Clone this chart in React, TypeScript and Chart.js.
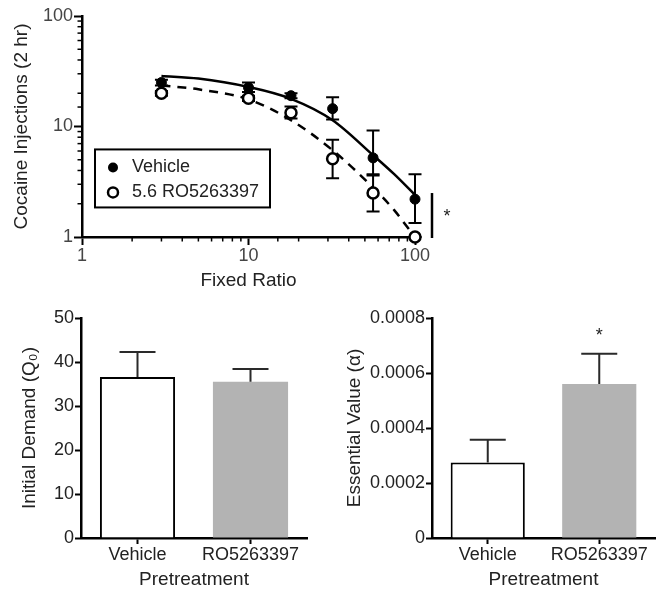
import React, { useEffect, useRef } from "react";
import { Chart, registerables } from "chart.js";
Chart.register(...registerables);

const FONT = "'Liberation Sans', Arial, Helvetica, sans-serif";
const INK = "#222222";
const TICK_INK = "#454545";

// ---- Top panel: demand curves ----
const fixedRatios = [3, 10, 18, 32, 56, 100];
const vehicleMean = [25, 22.5, 19, 14.5, 5.2, 2.2];
const vehicleUpper = [26.5, 25, 20, 18.4, 9.2, 3.7];
const vehicleLower = [23.5, 20.5, 18, 11.6, 3.6, 1.34];
const roMean = [20, 18, 13.3, 5.1, 2.5, 1.0];
const roUpper = [21, 19, 15.2, 7.6, 3.7, 1.0];
const roLower = [19, 17, 11.8, 3.4, 1.7, 1.0];
const vehicleCurveX = [3, 5, 10, 18, 32, 56, 75, 100];
const vehicleCurveY = [28.7, 27.2, 22.8, 17.8, 11.4, 5.5, 3.7, 2.4];
const roCurveX = [3, 5, 10, 18, 32, 56, 75, 93];
const roCurveY = [23.5, 21.7, 17.6, 11.4, 6.1, 2.8, 1.75, 1.15];
const logMajorTicks = [1, 10, 100];
const legendLabels = ["Vehicle", "5.6 RO5263397"];
const sigBarRange = [1, 2.5];

// ---- Bottom panels ----
const pretreatments = ["Vehicle", "RO5263397"];
const q0Mean = [36.6, 35.5];
const q0Sem = [5.7, 2.9];
const alphaMean = [0.000275, 0.00056];
const alphaSem = [0.000082, 0.00011];
const alphaSignificant = [false, true];
const barFills = ["#ffffff", "#b3b3b3"];
const barBorders = [2, 0];

const tickFont = { family: FONT, size: 18 };
const titleFont = { family: FONT, size: 19 };

function makeTopChart(canvas: HTMLCanvasElement) {
  const errPlugin = {
    id: "errTop",
    beforeDatasetsDraw(chart: any) {
      const { ctx } = chart;
      const xs = chart.scales.x;
      const ys = chart.scales.y;
      ctx.save();
      ctx.strokeStyle = "#000";
      ctx.lineWidth = 2;
      const drawSet = (up: number[], lo: number[]) => {
        fixedRatios.forEach((fr, i) => {
          const px = xs.getPixelForValue(fr);
          const pu = ys.getPixelForValue(up[i]);
          const pl = ys.getPixelForValue(lo[i]);
          ctx.beginPath();
          ctx.moveTo(px, pu);
          ctx.lineTo(px, pl);
          ctx.moveTo(px - 6.5, pu);
          ctx.lineTo(px + 6.5, pu);
          ctx.moveTo(px - 6.5, pl);
          ctx.lineTo(px + 6.5, pl);
          ctx.stroke();
        });
      };
      drawSet(vehicleUpper, vehicleLower);
      drawSet(roUpper, roLower);
      ctx.restore();
    },
    afterDraw(chart: any) {
      const { ctx, chartArea } = chart;
      const xs = chart.scales.x;
      const ys = chart.scales.y;
      ctx.save();
      // minor ticks
      ctx.strokeStyle = "#000";
      ctx.lineWidth = 1.5;
      xs.ticks.forEach((t: any) => {
        if (logMajorTicks.includes(t.value)) return;
        const px = xs.getPixelForValue(t.value);
        ctx.beginPath();
        ctx.moveTo(px, chartArea.bottom);
        ctx.lineTo(px, chartArea.bottom + 4.5);
        ctx.stroke();
      });
      ys.ticks.forEach((t: any) => {
        if (logMajorTicks.includes(t.value)) return;
        const py = ys.getPixelForValue(t.value);
        ctx.beginPath();
        ctx.moveTo(chartArea.left, py);
        ctx.lineTo(chartArea.left - 4.5, py);
        ctx.stroke();
      });
      // significance bar
      const sx = chartArea.right + 17;
      const sy1 = ys.getPixelForValue(sigBarRange[1]);
      const sy0 = ys.getPixelForValue(sigBarRange[0]) + 1;
      ctx.lineWidth = 2.5;
      ctx.beginPath();
      ctx.moveTo(sx, sy1);
      ctx.lineTo(sx, sy0);
      ctx.stroke();
      ctx.fillStyle = INK;
      ctx.font = `18px ${FONT}`;
      ctx.textAlign = "center";
      ctx.textBaseline = "middle";
      ctx.fillText("*", sx + 15, (sy0 + sy1) / 2 + 2);
      // legend box
      const bx = chartArea.left + 13;
      const by = ys.getPixelForValue(6.2);
      const bw = 175;
      const bh = 58;
      ctx.fillStyle = "#fff";
      ctx.fillRect(bx, by, bw, bh);
      ctx.lineWidth = 2;
      ctx.strokeStyle = "#000";
      ctx.strokeRect(bx, by, bw, bh);
      const rows = [by + 18, by + 43];
      ctx.beginPath();
      ctx.arc(bx + 18, rows[0], 5, 0, Math.PI * 2);
      ctx.fillStyle = "#000";
      ctx.fill();
      ctx.beginPath();
      ctx.arc(bx + 18, rows[1], 5, 0, Math.PI * 2);
      ctx.fillStyle = "#fff";
      ctx.fill();
      ctx.lineWidth = 2.5;
      ctx.stroke();
      ctx.fillStyle = INK;
      ctx.textAlign = "left";
      ctx.font = `18px ${FONT}`;
      ctx.fillText(legendLabels[0], bx + 37, rows[0]);
      ctx.fillText(legendLabels[1], bx + 37, rows[1]);
      ctx.restore();
    },
  };

  const logAxis = (titleText: string, horizontal: boolean) => ({
    type: "logarithmic" as const,
    min: 1,
    max: 100,
    afterFit: (s: any) => {
      if (horizontal) s.height = 63;
      else s.width = 82;
    },
    border: { display: true, color: "#000", width: 2.5 },
    grid: {
      display: true,
      drawOnChartArea: false,
      drawTicks: true,
      tickLength: 8,
      tickWidth: 2,
      tickColor: (c: any) =>
        c.tick && logMajorTicks.includes(c.tick.value) ? "#000" : "rgba(0,0,0,0)",
    },
    ticks: {
      autoSkip: false,
      maxRotation: 0,
      padding: horizontal ? 0 : 1,
      color: TICK_INK,
      font: tickFont,
      callback: (v: any) => (logMajorTicks.includes(Number(v)) ? String(v) : ""),
    },
    title: {
      display: true,
      text: titleText,
      color: INK,
      font: titleFont,
      padding: horizontal ? { top: 0, bottom: 7.6 } : { top: 10.6, bottom: 0 },
    },
  });

  return new Chart(canvas, {
    type: "scatter",
    data: {
      datasets: [
        {
          label: legendLabels[1],
          data: fixedRatios.map((x, i) => ({ x, y: roMean[i] })),
          pointRadius: 5.5,
          pointBackgroundColor: "#fff",
          pointBorderColor: "#000",
          pointBorderWidth: 2.5,
          clip: false,
        },
        {
          label: legendLabels[0],
          data: fixedRatios.map((x, i) => ({ x, y: vehicleMean[i] })),
          pointRadius: 5,
          pointBackgroundColor: "#000",
          pointBorderColor: "#000",
          pointBorderWidth: 1,
          clip: false,
        },
        {
          label: "vehicle fit",
          data: vehicleCurveX.map((x, i) => ({ x, y: vehicleCurveY[i] })),
          showLine: true,
          pointRadius: 0,
          borderColor: "#000",
          borderWidth: 2.5,
          cubicInterpolationMode: "monotone",
          fill: false,
          clip: false,
        },
        {
          label: "ro fit",
          data: roCurveX.map((x, i) => ({ x, y: roCurveY[i] })),
          showLine: true,
          pointRadius: 0,
          borderColor: "#000",
          borderWidth: 2.5,
          borderDash: [9, 7],
          cubicInterpolationMode: "monotone",
          fill: false,
          clip: false,
        },
      ] as any,
    },
    options: {
      responsive: false,
      animation: false,
      devicePixelRatio: 1,
      events: [],
      layout: { padding: { top: 16, right: 55, left: 0, bottom: 0 } },
      plugins: { legend: { display: false }, tooltip: { enabled: false } },
      scales: {
        x: logAxis("Fixed Ratio", true),
        y: logAxis("Cocaine Injections (2 hr)", false),
      } as any,
    },
    plugins: [errPlugin],
  });
}

function makeBarChart(
  canvas: HTMLCanvasElement,
  means: number[],
  sems: number[],
  yMax: number,
  yStep: number,
  yTitle: string,
  yWidth: number,
  rightPad: number,
  titlePad: number,
  labelFmt: (v: number) => string,
  significant: boolean[]
) {
  const errPlugin = {
    id: "errBar",
    afterDatasetsDraw(chart: any) {
      const { ctx } = chart;
      const ys = chart.scales.y;
      const meta = chart.getDatasetMeta(0);
      ctx.save();
      ctx.strokeStyle = "#2a2a2a";
      ctx.lineWidth = 2;
      meta.data.forEach((bar: any, i: number) => {
        const x = bar.x;
        const y0 = ys.getPixelForValue(means[i]);
        const y1 = ys.getPixelForValue(means[i] + sems[i]);
        ctx.beginPath();
        ctx.moveTo(x, y0);
        ctx.lineTo(x, y1);
        ctx.moveTo(x - 18, y1);
        ctx.lineTo(x + 18, y1);
        ctx.stroke();
        if (significant[i]) {
          ctx.fillStyle = INK;
          ctx.font = `18px ${FONT}`;
          ctx.textAlign = "center";
          ctx.textBaseline = "middle";
          ctx.fillText("*", x, y1 - 18);
        }
      });
      ctx.restore();
    },
  };
  return new Chart(canvas, {
    type: "bar",
    data: {
      labels: pretreatments,
      datasets: [
        {
          data: means,
          backgroundColor: barFills,
          borderColor: "#000",
          borderWidth: barBorders,
          categoryPercentage: 1,
          barPercentage: 0.665,
        },
      ],
    },
    options: {
      responsive: false,
      animation: false,
      devicePixelRatio: 1,
      events: [],
      layout: { padding: { top: 28, right: rightPad, left: 0, bottom: 0 } },
      plugins: { legend: { display: false }, tooltip: { enabled: false } },
      scales: {
        x: {
          afterFit: (s: any) => {
            s.height = 53;
          },
          border: { display: true, color: "#000", width: 2.5 },
          grid: {
            display: true,
            offset: false,
            drawOnChartArea: false,
            drawTicks: true,
            tickLength: 6,
            tickWidth: 2,
            tickColor: "#000",
          },
          ticks: { color: INK, font: tickFont, padding: 0, maxRotation: 0 },
          title: {
            display: true,
            text: "Pretreatment",
            color: INK,
            font: titleFont,
            padding: { top: 0, bottom: 0 },
          },
        },
        y: {
          min: 0,
          max: yMax,
          afterFit: (s: any) => {
            s.width = yWidth;
          },
          border: { display: true, color: "#000", width: 2.5 },
          grid: {
            display: true,
            drawOnChartArea: false,
            drawTicks: true,
            tickLength: 6,
            tickWidth: 2,
            tickColor: "#000",
          },
          ticks: {
            stepSize: yStep,
            color: INK,
            font: tickFont,
            padding: 1,
            callback: (v: any) => labelFmt(Number(v)),
          },
          title: {
            display: true,
            text: yTitle,
            color: INK,
            font: titleFont,
            padding: { top: titlePad, bottom: 0 },
          },
        },
      } as any,
    },
    plugins: [errPlugin],
  });
}

export default function App() {
  const topRef = useRef<HTMLCanvasElement>(null);
  const leftRef = useRef<HTMLCanvasElement>(null);
  const rightRef = useRef<HTMLCanvasElement>(null);

  useEffect(() => {
    Chart.defaults.font.family = FONT;
    Chart.defaults.color = INK;
    const charts: Chart[] = [];
    if (topRef.current) charts.push(makeTopChart(topRef.current));
    if (leftRef.current)
      charts.push(
        makeBarChart(
          leftRef.current,
          q0Mean,
          q0Sem,
          50,
          10,
          "Initial Demand (Q\u2080)",
          81,
          23,
          18.6,
          (v) => String(v),
          [false, false]
        )
      );
    if (rightRef.current)
      charts.push(
        makeBarChart(
          rightRef.current,
          alphaMean,
          alphaSem,
          0.0008,
          0.0002,
          "Essential Value (\u03b1)",
          102,
          1,
          13.6,
          (v) => (v === 0 ? "0" : v.toFixed(4)),
          alphaSignificant
        )
      );
    return () => charts.forEach((c) => c.destroy());
  }, []);

  const abs = (l: number, t: number): React.CSSProperties => ({
    position: "absolute",
    left: l,
    top: t,
    display: "block",
  });

  return (
    <div style={{ position: "absolute", left: 0, top: 0, width: 656, height: 591, background: "#fff" }}>
      <canvas ref={topRef} width={470} height={300} style={abs(0, 0)} />
      <canvas ref={leftRef} width={330} height={301} style={abs(0, 290)} />
      <canvas ref={rightRef} width={326} height={301} style={abs(330, 290)} />
    </div>
  );
}
